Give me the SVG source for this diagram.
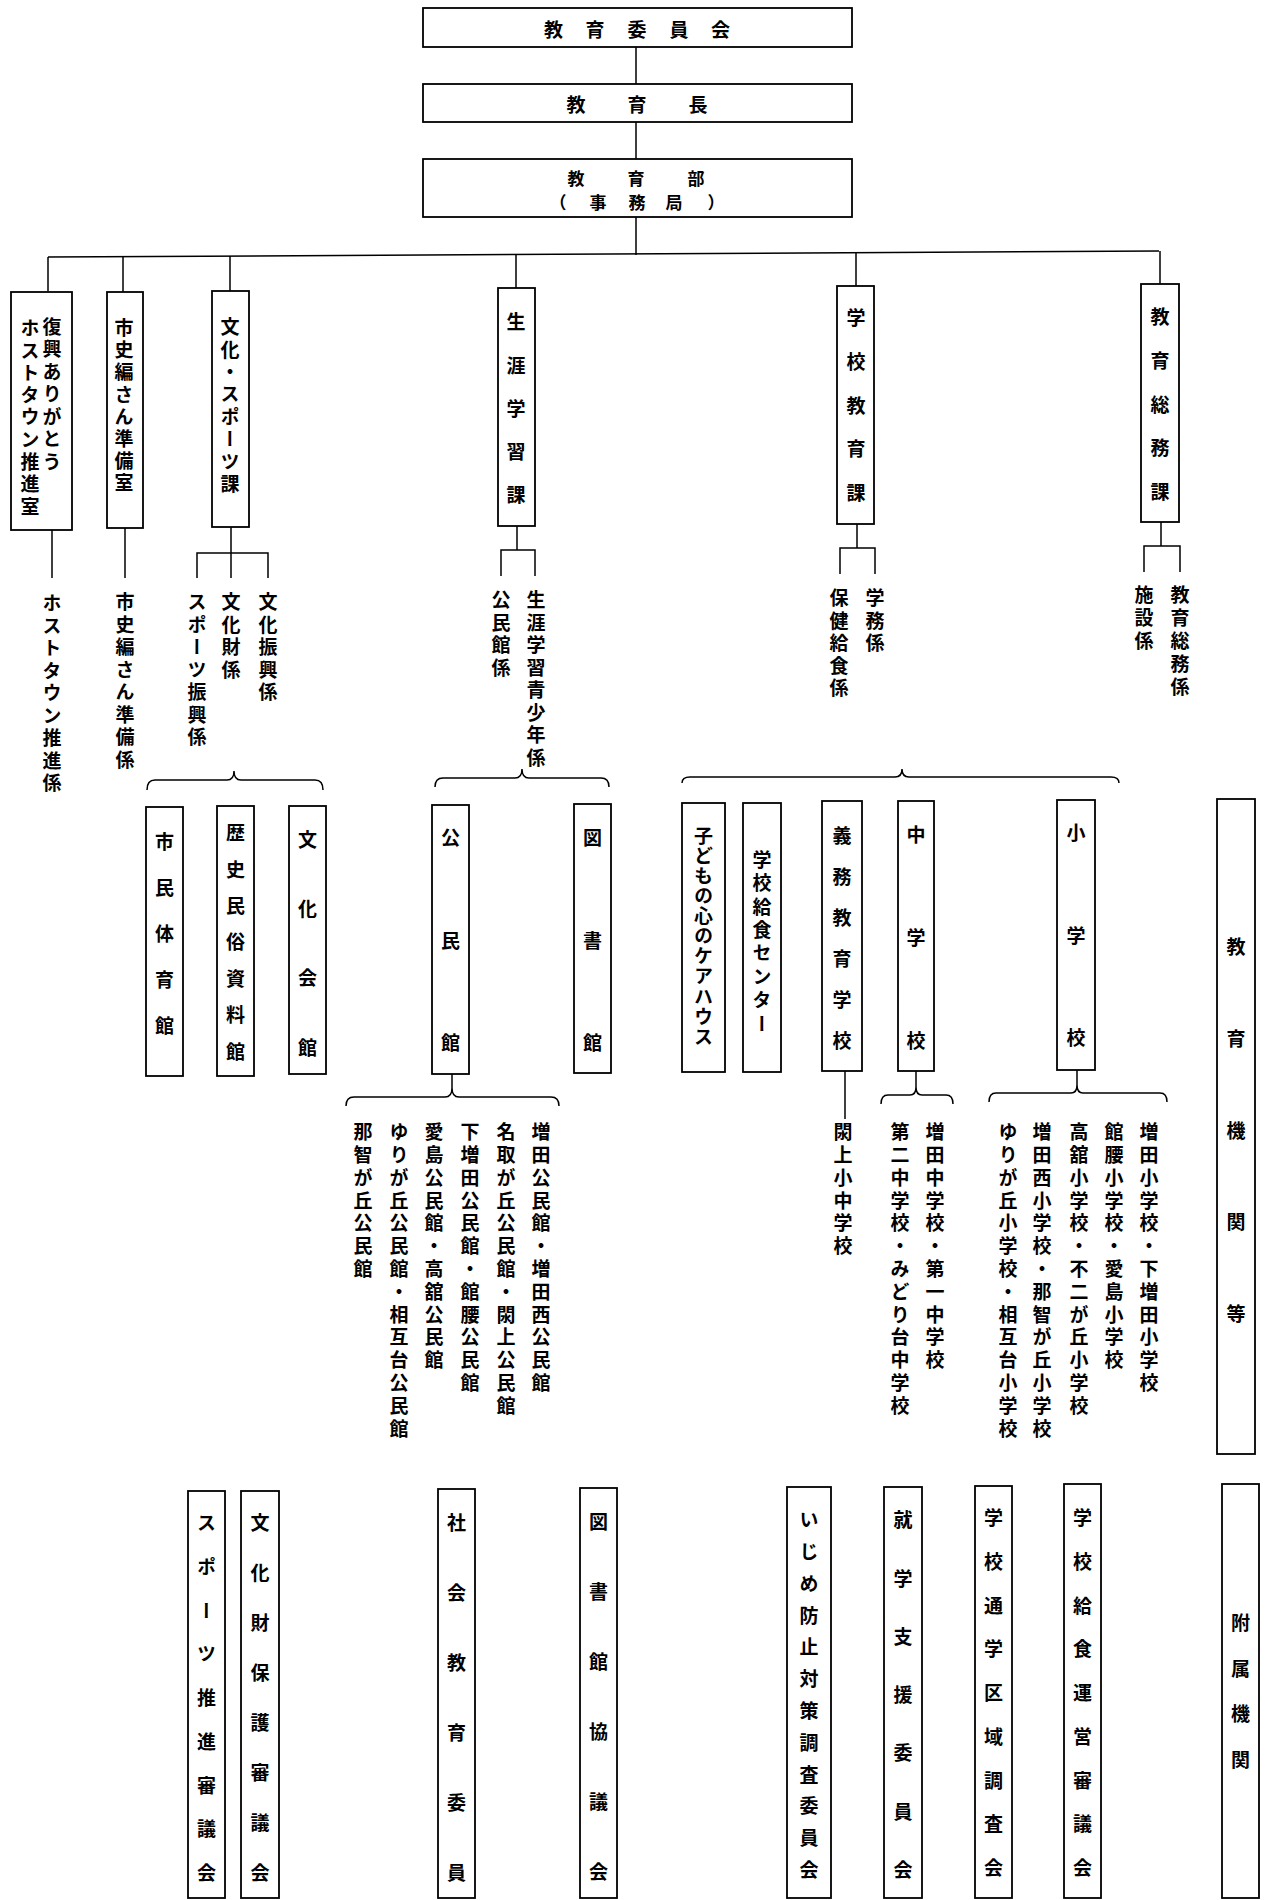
<svg xmlns="http://www.w3.org/2000/svg" width="1265" height="1900" viewBox="0 0 1265 1900">
<style>
.bx{fill:#fff;stroke:#000;stroke-width:1.8}
.ln{fill:none;stroke:#000;stroke-width:1.5}
.v{font-family:"Noto Sans CJK JP","Noto Sans CJK SC",sans-serif;font-weight:700;font-size:19px;writing-mode:vertical-rl;fill:#000}
.h{font-family:"Noto Sans CJK JP","Noto Sans CJK SC",sans-serif;font-weight:700;font-size:19px;fill:#000;text-anchor:middle;dominant-baseline:central}
.hs{font-size:17px}
</style>
<rect width="1265" height="1900" fill="#fff"/>
<g id="connectors">
<line class="ln" x1="636" y1="47" x2="636" y2="84"/>
<line class="ln" x1="636" y1="122" x2="636" y2="159"/>
<line class="ln" x1="636" y1="217" x2="636" y2="255"/>
<line class="ln" x1="48" y1="257" x2="1159" y2="251"/>
<line class="ln" x1="48" y1="257" x2="48" y2="291"/>
<line class="ln" x1="123" y1="257" x2="123" y2="292"/>
<line class="ln" x1="230" y1="256" x2="230" y2="291"/>
<line class="ln" x1="516" y1="255" x2="516" y2="288"/>
<line class="ln" x1="856" y1="253" x2="856" y2="286"/>
<line class="ln" x1="1160" y1="251" x2="1160" y2="284"/>
<line class="ln" x1="52" y1="530" x2="52" y2="578"/>
<line class="ln" x1="125" y1="528" x2="125" y2="578"/>
<path class="ln" d="M231,527 V578 M197,578 V553 H268 V578"/>
<path class="ln" d="M517,526 V550 M501,576 V550 H535 V576"/>
<path class="ln" d="M857,524 V548 M840,574 V548 H875 V574"/>
<path class="ln" d="M1161,522 V546 M1144,572 V546 H1180 V572"/>
<path class="ln" d="M147,790 Q147,780 155,780 L227,780 Q234,780 234,771 Q234,780 241,780 L315,780 Q323,780 323,790"/>
<path class="ln" d="M435,787 Q435,778 443,778 L515,778 Q522,778 522,769 Q522,778 529,778 L601,778 Q609,778 609,787"/>
<path class="ln" d="M682,783 Q682,777 690,777 L895,777 Q902,777 902,769 Q902,777 909,777 L1111,777 Q1119,777 1119,783"/>
<path class="ln" d="M452,1074 V1088 M346,1106 Q346,1097 354,1097 L445,1097 Q452,1097 452,1088 Q452,1097 459,1097 L551,1097 Q559,1097 559,1106"/>
<line class="ln" x1="845" y1="1071" x2="845" y2="1119"/>
<path class="ln" d="M916,1071 V1087 M881,1104 Q881,1095 888,1095 L910,1095 Q916,1095 916,1087 Q916,1095 922,1095 L946,1095 Q953,1095 953,1104"/>
<path class="ln" d="M1077,1070 V1085 M989,1102 Q989,1093 996,1093 L1071,1093 Q1077,1093 1077,1085 Q1077,1093 1083,1093 L1160,1093 Q1167,1093 1167,1102"/>
</g>
<g id="n-iinkai"><rect class="bx" x="423" y="8" width="429" height="39"/><text class="h" x="553.5 595 637 679 720.5" y="28">教育委員会</text></g>
<g id="n-kyoikucho"><rect class="bx" x="423" y="84" width="429" height="38"/><text class="h" x="576 637 698" y="103">教育長</text></g>
<g id="n-kyoikubu"><rect class="bx" x="423" y="159" width="429" height="58"/><text class="h hs" x="576 636 696" y="177">教育部</text><text class="h hs" x="558 598 637 674 716" y="201">（事務局）</text></g>
<g id="n-fukko"><rect class="bx" x="11" y="292" width="61" height="238"/><text class="v" x="52" y="317" style="letter-spacing:3.5px">復興ありがとう</text><text class="v" x="30" y="318.5" style="letter-spacing:3.3px">ホストタウン推進室</text></g>
<g id="n-shishi"><rect class="bx" x="107" y="292" width="36" height="236"/><text class="v" x="124" y="318.5" style="letter-spacing:3.1px">市史編さん準備室</text></g>
<g id="n-bunka"><rect class="bx" x="212" y="291" width="37" height="236"/><text class="v" x="230" y="317.5" style="letter-spacing:3.4px">文化・スポーツ課</text></g>
<g id="n-shogai"><rect class="bx" x="498" y="288" width="37" height="238"/><text class="v" x="516" y="312.5" style="letter-spacing:24.3px">生涯学習課</text></g>
<g id="n-gakko"><rect class="bx" x="837" y="286" width="37" height="238"/><text class="v" x="856" y="308.5" style="letter-spacing:24.75px">学校教育課</text></g>
<g id="n-somu"><rect class="bx" x="1141" y="284" width="38" height="238"/><text class="v" x="1160" y="307.5" style="letter-spacing:24.75px">教育総務課</text></g>
<g id="n-hostkakari"><text class="v" x="52" y="593.5" style="letter-spacing:3.5px">ホストタウン推進係</text></g>
<g id="n-shishikakari"><text class="v" x="125" y="592.5" style="letter-spacing:3.5px">市史編さん準備係</text></g>
<g id="n-bunkashinko"><text class="v" x="268" y="592.5" style="letter-spacing:3.5px">文化振興係</text></g>
<g id="n-bunkazai"><text class="v" x="231" y="592.5" style="letter-spacing:3.5px">文化財係</text></g>
<g id="n-sports"><text class="v" x="197" y="592.5" style="letter-spacing:3.5px">スポーツ振興係</text></g>
<g id="n-seishonen"><text class="v" x="536" y="590.5" style="letter-spacing:3.5px">生涯学習青少年係</text></g>
<g id="n-kominkankakari"><text class="v" x="501" y="590.5" style="letter-spacing:3.5px">公民館係</text></g>
<g id="n-gakumu"><text class="v" x="875" y="588.5" style="letter-spacing:3.5px">学務係</text></g>
<g id="n-hoken"><text class="v" x="839" y="588.5" style="letter-spacing:3.5px">保健給食係</text></g>
<g id="n-somukakari"><text class="v" x="1180" y="585.5" style="letter-spacing:3.9px">教育総務係</text></g>
<g id="n-shisetsu"><text class="v" x="1144" y="585.5" style="letter-spacing:3.9px">施設係</text></g>
<g id="n-taiikukan"><rect class="bx" x="146" y="807" width="37" height="269"/><text class="v" x="164.5" y="832.5" style="letter-spacing:26.9px">市民体育館</text></g>
<g id="n-rekishi"><rect class="bx" x="217" y="806" width="37" height="270"/><text class="v" x="235.5" y="823.5" style="letter-spacing:17.4px">歴史民俗資料館</text></g>
<g id="n-bunkakaikan"><rect class="bx" x="289" y="806" width="37" height="268"/><text class="v" x="307.5" y="830.5" style="letter-spacing:50.1px">文化会館</text></g>
<g id="n-kominkan"><rect class="bx" x="432" y="805" width="37" height="269"/><text class="v" x="450.5" y="828.5" style="letter-spacing:83.6px">公民館</text></g>
<g id="n-toshokan"><rect class="bx" x="574" y="804" width="37" height="269"/><text class="v" x="592.5" y="828.5" style="letter-spacing:83.6px">図書館</text></g>
<g id="n-carehouse"><rect class="bx" x="682" y="803" width="43" height="269"/><text class="v" x="703.5" y="826" style="letter-spacing:1.1px">子どもの心のケアハウス</text></g>
<g id="n-kyushoku"><rect class="bx" x="743" y="803" width="38" height="269"/><text class="v" x="762" y="850" style="letter-spacing:4.4px">学校給食センター</text></g>
<g id="n-gimu"><rect class="bx" x="822" y="801" width="40" height="270"/><text class="v" x="842" y="826" style="letter-spacing:22px">義務教育学校</text></g>
<g id="n-chugakko"><rect class="bx" x="898" y="801" width="36" height="270"/><text class="v" x="916" y="825.5" style="letter-spacing:84px">中学校</text></g>
<g id="n-shogakko"><rect class="bx" x="1057" y="800" width="38" height="270"/><text class="v" x="1076" y="823.5" style="letter-spacing:83.6px">小学校</text></g>
<g id="n-kikan"><rect class="bx" x="1217" y="799" width="38" height="655"/><text class="v" x="1236" y="937.5" style="letter-spacing:72.7px">教育機関等</text></g>
<g id="n-kominkanlist">
<text class="v" x="541" y="1122.5" style="letter-spacing:3.8px">増田公民館・増田西公民館</text>
<text class="v" x="506" y="1122.5" style="letter-spacing:3.8px">名取が丘公民館・閖上公民館</text>
<text class="v" x="470" y="1122.5" style="letter-spacing:3.8px">下増田公民館・館腰公民館</text>
<text class="v" x="434" y="1122.5" style="letter-spacing:3.8px">愛島公民館・高舘公民館</text>
<text class="v" x="399" y="1122.5" style="letter-spacing:3.8px">ゆりが丘公民館・相互台公民館</text>
<text class="v" x="363" y="1122.5" style="letter-spacing:3.8px">那智が丘公民館</text>
</g>
<g id="n-yuriage"><text class="v" x="843" y="1122.5" style="letter-spacing:3.8px">閖上小中学校</text></g>
<g id="n-chulist">
<text class="v" x="935" y="1122.5" style="letter-spacing:3.8px">増田中学校・第一中学校</text>
<text class="v" x="900" y="1122.5" style="letter-spacing:3.8px">第二中学校・みどり台中学校</text>
</g>
<g id="n-sholist">
<text class="v" x="1149" y="1122.5" style="letter-spacing:3.8px">増田小学校・下増田小学校</text>
<text class="v" x="1114" y="1122.5" style="letter-spacing:3.8px">館腰小学校・愛島小学校</text>
<text class="v" x="1079" y="1122.5" style="letter-spacing:3.8px">高舘小学校・不二が丘小学校</text>
<text class="v" x="1042" y="1122.5" style="letter-spacing:3.8px">増田西小学校・那智が丘小学校</text>
<text class="v" x="1008" y="1122.5" style="letter-spacing:3.8px">ゆりが丘小学校・相互台小学校</text>
</g>
<g id="n-sportsshingi"><rect class="bx" x="188" y="1491" width="37" height="407"/><text class="v" x="206.5" y="1513.5 1557.25 1601 1644.75 1688.5 1732.25 1776 1819.75 1863.5">スポーツ推進審議会</text></g>
<g id="n-bunkazaishingi"><rect class="bx" x="241" y="1491" width="38" height="407"/><text class="v" x="260" y="1513.5 1563.5 1613.5 1663.5 1713.5 1763.5 1813.5 1863.5">文化財保護審議会</text></g>
<g id="n-shakai"><rect class="bx" x="438" y="1489" width="37" height="409"/><text class="v" x="456.5" y="1513.5 1583.5 1653.5 1723.5 1793.5 1863.5">社会教育委員</text></g>
<g id="n-toshokyogi"><rect class="bx" x="580" y="1488" width="37" height="410"/><text class="v" x="598.5" y="1512.5 1582.5 1652.5 1722.5 1792.5 1862.5">図書館協議会</text></g>
<g id="n-ijime"><rect class="bx" x="787" y="1487" width="44" height="411"/><text class="v" x="809" y="1510.5 1542.3 1574.1 1605.9 1637.7 1669.5 1701.3 1733.1 1764.9 1796.7 1828.5 1860.3">いじめ防止対策調査委員会</text></g>
<g id="n-shugaku"><rect class="bx" x="884" y="1487" width="38" height="411"/><text class="v" x="903" y="1510.5 1568.8 1627.1 1685.4 1743.7 1802 1860.3">就学支援委員会</text></g>
<g id="n-tsugaku"><rect class="bx" x="975" y="1486" width="37" height="412"/><text class="v" x="993.5" y="1508.5 1552.25 1596 1639.75 1683.5 1727.25 1771 1814.75 1858.5">学校通学区域調査会</text></g>
<g id="n-kyushokuunei"><rect class="bx" x="1064" y="1484" width="37" height="414"/><text class="v" x="1082.5" y="1508.5 1552.25 1596 1639.75 1683.5 1727.25 1771 1814.75 1858.5">学校給食運営審議会</text></g>
<g id="n-fuzoku"><rect class="bx" x="1222" y="1484" width="37" height="414"/><text class="v" x="1240.5" y="1613.5" style="letter-spacing:26.6px">附属機関</text></g>
</svg>
